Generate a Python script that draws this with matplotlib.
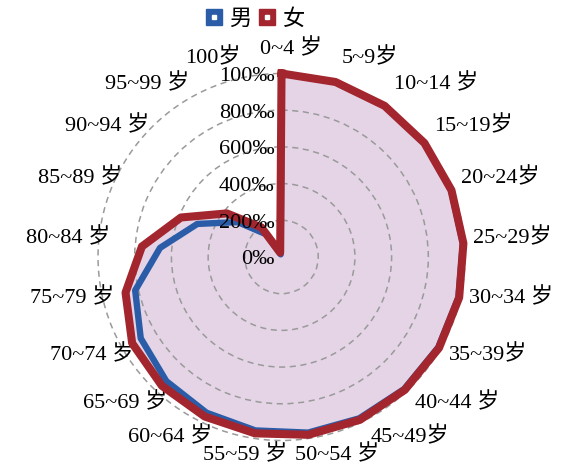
import numpy as np
import matplotlib.pyplot as plt
from matplotlib.lines import Line2D

plt.rcParams['font.family'] = ['Liberation Serif', 'Noto Sans CJK SC']

ages = ['0~4 岁', '5~9岁', '10~14 岁', '15~19岁', '20~24岁', '25~29岁', '30~34 岁',
        '35~39岁', '40~44 岁', '45~49岁', '50~54 岁', '55~59 岁', '60~64 岁', '65~69 岁',
        '70~74 岁', '75~79 岁', '80~84 岁', '85~89 岁', '90~94 岁', '95~99 岁', '100岁']
male = [1000, 997, 996, 995, 993, 991, 989, 986, 982, 976, 968, 956, 942, 923,
        886, 818, 664, 493, 305, 150, 15]
female = [1000, 998, 997, 996, 995, 994, 993, 991, 988, 985, 980, 972, 965, 958,
          940, 872, 763, 589, 381, 195, 25]
rticks = [0, 200, 400, 600, 800, 1000]
rlabels = ['0‰', '200‰', '400‰', '600‰', '800‰', '100‰']

blue = '#2b5ca8'
red = '#a3262e'

theta = np.linspace(0, 2 * np.pi, len(ages), endpoint=False)
th = np.append(theta, theta[0])
m = np.append(male, male[0])
f = np.append(female, female[0])

fig = plt.figure(figsize=(5.66, 4.68), dpi=100)
ax = fig.add_axes([0.1732, 0.0588, 0.6484, 0.7842], projection='polar')
ax.set_theta_zero_location('N')
ax.set_theta_direction(-1)
ax.set_ylim(0, 1000)
ax.set_xticks([])
ax.set_yticks(rticks[1:])
ax.set_yticklabels([])
ax.yaxis.grid(True, color='#9a9a9a', linestyle=(0, (4, 3)), linewidth=1.1)
for gl in ax.yaxis.get_gridlines():
    gl.set_clip_on(False)
ax.spines['polar'].set_visible(False)
ax.patch.set_visible(False)

ax.fill(th, f, color='#e4d4e6', zorder=1, clip_on=False)
ax.plot(th, m, color=blue, lw=4.6, clip_on=False, zorder=3)
ax.plot(th, f, color=red, lw=5.8, clip_on=False, zorder=4)

# radial labels, right-aligned next to the vertical axis
for v, lab in zip(rticks, rlabels):
    ax.annotate(lab, xy=(0, v), xytext=(-7, -3), textcoords='offset pixels',
                ha='right', va='center', fontsize=16, zorder=5,
                annotation_clip=False)

# category labels round the outside
texts = [ax.annotate(lab, xy=(0, 0), xytext=(0, 0), textcoords='offset pixels',
                     ha='center', va='center', fontsize=16, annotation_clip=False)
         for lab in ages]
fig.canvas.draw()
ren = fig.canvas.get_renderer()
for t, a in zip(texts, theta):
    bb = t.get_window_extent(ren)
    sx = np.clip(3 * np.sin(a), -1, 1)
    dx = 182 * np.sin(a) + sx * bb.width / 2 + 10
    dy = (194 + bb.height / 2) * np.cos(a) + 4
    t.xyann = (dx, dy)

h_m = (Line2D([], [], ls='', marker='s', ms=11.5, mfc=blue, mec=blue),
       Line2D([], [], ls='', marker='s', ms=2.5, mfc='white', mec='white'))
h_f = (Line2D([], [], ls='', marker='s', ms=11.5, mfc=red, mec=red),
       Line2D([], [], ls='', marker='s', ms=2.5, mfc='white', mec='white'))
fig.legend([h_m, h_f], ['男', '女'], loc='upper center', bbox_to_anchor=(0.45, 1.0),
           ncol=2, frameon=False, fontsize=16, handlelength=0.8, handletextpad=0.3,
           columnspacing=0.3, borderaxespad=0.0)

fig.savefig('out.png', dpi=100)
